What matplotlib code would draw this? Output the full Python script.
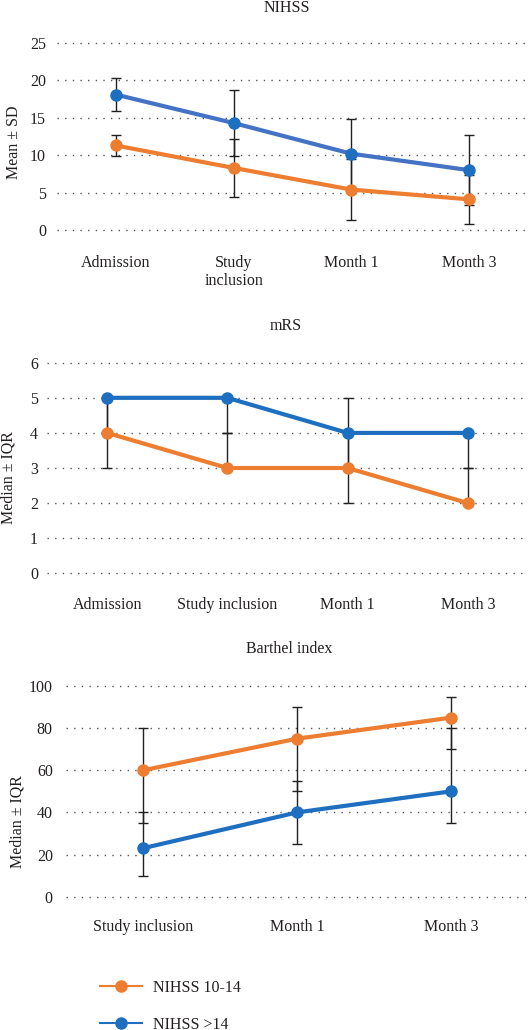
import numpy as np
import matplotlib
matplotlib.use('Agg')
import matplotlib.pyplot as plt
from matplotlib.lines import Line2D

plt.rcParams['font.family'] = ['Liberation Serif', 'DejaVu Serif']

# NIHSS (mean +/- SD)
nihss_cats = ['Admission', 'Study\ninclusion', 'Month 1', 'Month 3']
nihss_low_mean = [11.3, 8.3, 5.4, 4.1]
nihss_low_sd = [1.4, 3.9, 4.1, 3.3]
nihss_high_mean = [18.1, 14.3, 10.2, 8.0]
nihss_high_sd = [2.2, 4.4, 4.7, 4.7]

# mRS (median, IQR)
mrs_cats = ['Admission', 'Study inclusion', 'Month 1', 'Month 3']
mrs_low_med = [4, 3, 3, 2]
mrs_low_q1 = [3, 3, 2, 2]
mrs_low_q3 = [5, 4, 4, 3]
mrs_high_med = [5, 5, 4, 4]
mrs_high_q1 = [4, 4, 3, 3]
mrs_high_q3 = [5, 5, 5, 4]

# Barthel index (median, IQR)
bi_cats = ['Study inclusion', 'Month 1', 'Month 3']
bi_low_med = [60, 75, 85]
bi_low_q1 = [35, 50, 70]
bi_low_q3 = [80, 90, 95]
bi_high_med = [23, 40, 50]
bi_high_q1 = [10, 25, 35]
bi_high_q3 = [40, 55, 80]

labels = ['NIHSS 10-14', 'NIHSS >14']
orange = '#ED7D31'
blue = '#1F6FC0'
blue_line1 = '#4472C4'
txt = '#231F20'
W, H = 528, 1030

fig = plt.figure(figsize=(W / 100, H / 100), dpi=100)


def px_axes(left, top, bottom):
    return fig.add_axes([left / W, 1 - bottom / H, 1 - left / W, (bottom - top) / H])


def style(ax, yticks, ylim, xpad, ypad):
    ax.set_ylim(*ylim)
    ax.set_yticks(yticks)
    for s in ax.spines.values():
        s.set_visible(False)
    ax.tick_params(axis='both', length=0, labelsize=11.5, colors=txt)
    ax.tick_params(axis='x', pad=xpad)
    ax.tick_params(axis='y', pad=ypad)
    ax.yaxis.grid(True, color='#555555', linewidth=1.0, linestyle=(0, (1, 4.5)))
    ax.set_axisbelow(True)


def draw(ax, x, ys, errs, line_colors, marker_colors):
    for y, e in zip(ys, errs):
        ax.errorbar(x, y, yerr=e, fmt='none', ecolor=txt, elinewidth=1.0,
                    capsize=3.5, capthick=1.0, zorder=2)
    for y, lc, mc in zip(ys, line_colors, marker_colors):
        ax.plot(x, y, color=lc, lw=3, marker='o', ms=8, mfc=mc, mec=mc, zorder=3)


# panel 1
ax1 = px_axes(57, 35.5, 237.5)
x1 = np.arange(len(nihss_cats))
draw(ax1, x1, [nihss_low_mean, nihss_high_mean], [nihss_low_sd, nihss_high_sd],
     [orange, blue_line1], [orange, blue])
ax1.set_xlim(-0.5, 3.5)
ax1.set_xticks(x1)
ax1.set_xticklabels(nihss_cats, linespacing=1.15)
style(ax1, range(0, 26, 5), (-1, 26), 12.5, 8)

# panel 2
ax2 = px_axes(47, 352.2, 583.8)
x2 = np.arange(len(mrs_cats))
mrs_low_err = [np.subtract(mrs_low_med, mrs_low_q1), np.subtract(mrs_low_q3, mrs_low_med)]
mrs_high_err = [np.subtract(mrs_high_med, mrs_high_q1), np.subtract(mrs_high_q3, mrs_high_med)]
draw(ax2, x2, [mrs_low_med, mrs_high_med], [mrs_low_err, mrs_high_err],
     [orange, blue], [orange, blue])
ax2.set_xlim(-0.5, 3.5)
ax2.set_xticks(x2)
ax2.set_xticklabels(mrs_cats)
style(ax2, range(0, 7), (-0.3, 6.3), 9.5, 6.5)

# panel 3
ax3 = px_axes(66, 675.5, 907.2)
x3 = np.arange(len(bi_cats))
bi_low_err = [np.subtract(bi_low_med, bi_low_q1), np.subtract(bi_low_q3, bi_low_med)]
bi_high_err = [np.subtract(bi_high_med, bi_high_q1), np.subtract(bi_high_q3, bi_high_med)]
draw(ax3, x3, [bi_low_med, bi_high_med], [bi_low_err, bi_high_err],
     [orange, blue], [orange, blue])
ax3.set_xlim(-0.5, 2.5)
ax3.set_xticks(x3)
ax3.set_xticklabels(bi_cats)
style(ax3, range(0, 101, 20), (-5, 105), 8.5, 9.5)

# titles and y labels
for t, x, yb in [('NIHSS', 287, 11.5), ('mRS', 286, 330), ('Barthel index', 289, 653)]:
    fig.text(x / W, 1 - yb / H, t, ha='center', va='baseline', fontsize=11.5, color=txt)
for t, x, y in [('Mean ± SD', 14, 142), ('Median ± IQR', 9, 478), ('Median ± IQR', 18, 822)]:
    fig.text(x / W, 1 - y / H, t, ha='center', va='center', rotation=90,
             fontsize=11.5, color=txt)

# legend
handles = [Line2D([], [], color=c, lw=1.5, marker='o', ms=8, mfc=c, mec=c)
           for c in [orange, blue]]
fig.legend(handles, labels, loc='upper left', bbox_to_anchor=(100 / W, 1 - 980 / H),
           frameon=False, fontsize=11.5, handlelength=2.6, handletextpad=0.7,
           labelspacing=1.3, borderpad=0, borderaxespad=0, labelcolor=txt)

fig.savefig('out.png', dpi=100)
